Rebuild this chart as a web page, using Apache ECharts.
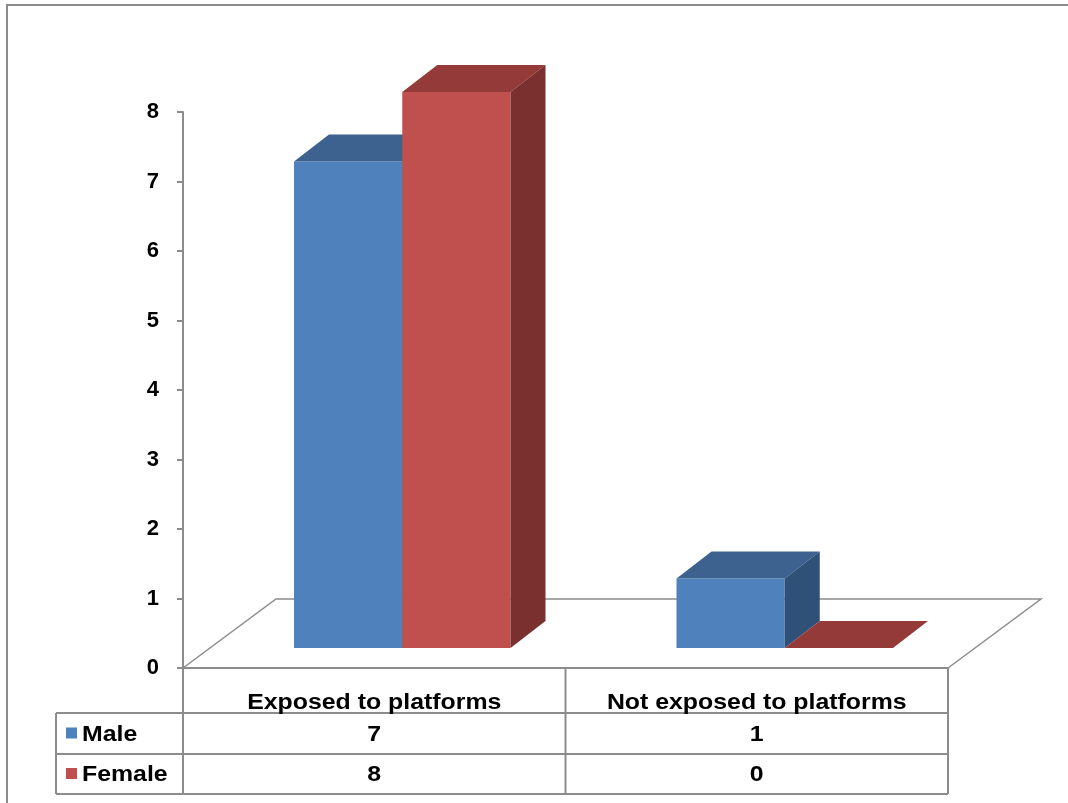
<!DOCTYPE html>
<html>
<head>
<meta charset="utf-8">
<style>
    html, body { margin: 0; padding: 0; background: #fff; }
    #chart { width: 1068px; height: 803px; }
</style>
<script src="https://cdn.jsdelivr.net/npm/echarts@6/dist/echarts.min.js"></script>
</head>
<body>
<div id="chart"></div>
<script>
// data
const categories = ['Exposed to platforms', 'Not exposed to platforms'];
const seriesNames = ['Male', 'Female'];
const maleValues = [7, 1];
const femaleValues = [8, 0];

// colours: front / top / side
const palette = [
    { front: '#4F81BD', top: '#3D6290', side: '#2F5178' },
    { front: '#C0504D', top: '#943B39', side: '#79302E' }
];

// grid edges (plot front plane)
const G_LEFT = 183, G_RIGHT = 948, G_TOP = 112, G_BOTTOM = 668;
const FLOOR_DEPTH = [93, -69];   // floor back edge offset
const BAR_SHIFT = [28, -20];     // bars sit a bit back on the floor
const BAR_DEPTH = [35, -27];     // thickness of each bar
const FONT = '"Liberation Sans", Arial, sans-serif';

const chart = echarts.init(document.getElementById('chart'));

function barRenderer(sIdx) {
    const col = palette[sIdx];
    return function (params, api) {
        const cat = api.value(0);
        const val = api.value(1);
        const base = api.coord([cat, 0]);
        const top = api.coord([cat, val]);
        const w = api.size([1, 0])[0] * 0.283;
        const x0 = base[0] + (sIdx === 0 ? -w : 0) + BAR_SHIFT[0];
        const x1 = x0 + w;
        const yb = base[1] + BAR_SHIFT[1];
        const yt = top[1] + BAR_SHIFT[1];
        const dx = BAR_DEPTH[0], dy = BAR_DEPTH[1];
        return {
            type: 'group',
            children: [
                { type: 'rect', shape: { x: x0, y: yt, width: w, height: yb - yt }, style: { fill: col.front } },
                { type: 'polygon', shape: { points: [[x0, yt], [x1, yt], [x1 + dx, yt + dy], [x0 + dx, yt + dy]] }, style: { fill: col.top } },
                { type: 'polygon', shape: { points: [[x1, yt], [x1 + dx, yt + dy], [x1 + dx, yb + dy], [x1, yb]] }, style: { fill: col.side } }
            ]
        };
    };
}

function floorRenderer(params, api) {
    const cs = params.coordSys;
    const fl = [cs.x, cs.y + cs.height];
    const fr = [cs.x + cs.width, cs.y + cs.height];
    return {
        type: 'polyline',
        shape: { points: [fl, [fl[0] + FLOOR_DEPTH[0], fl[1] + FLOOR_DEPTH[1]], [fr[0] + FLOOR_DEPTH[0], fr[1] + FLOOR_DEPTH[1]], fr] },
        style: { stroke: '#8c8c8c', lineWidth: 1.5, fill: null }
    };
}

// data table under the plot
const tableTop = G_BOTTOM, row1 = 713, row2 = 754, tableBottom = 794, tableLeft = 56;
const colMid = (G_LEFT + G_RIGHT) / 2;
const lineStyle = { stroke: '#8c8c8c', lineWidth: 2 };
function hLine(x1, x2, y) { return { type: 'line', shape: { x1: x1, y1: y, x2: x2, y2: y }, style: lineStyle, silent: true }; }
function vLine(x, y1, y2) { return { type: 'line', shape: { x1: x, y1: y1, x2: x, y2: y2 }, style: lineStyle, silent: true }; }
function txt(x, y, s, align, size) {
    return {
        type: 'text', x: x, y: y, scaleX: 1.13, silent: true,
        style: { x: 0, y: 0, text: s, fill: '#000', font: 'bold ' + size + 'px ' + FONT, align: align, verticalAlign: 'middle' }
    };
}

const graphics = [
    { type: 'rect', shape: { x: 7, y: 5, width: 1100, height: 840 }, style: { stroke: '#8c8c8c', lineWidth: 2, fill: null }, silent: true },
    hLine(G_LEFT, G_RIGHT, tableTop),
    hLine(tableLeft, G_RIGHT, row1),
    hLine(tableLeft, G_RIGHT, row2),
    hLine(tableLeft, G_RIGHT, tableBottom),
    vLine(tableLeft, row1, tableBottom),
    vLine(G_LEFT, tableTop, tableBottom),
    vLine(colMid, tableTop, tableBottom),
    vLine(G_RIGHT, tableTop, tableBottom)
];
const colCenters = [(G_LEFT + colMid) / 2, (colMid + G_RIGHT) / 2];
const rowCenters = [(row1 + row2) / 2 + 1, (row2 + tableBottom) / 2 + 1];
const rowValues = [maleValues, femaleValues];
categories.forEach(function (c, i) {
    graphics.push(txt(colCenters[i], 703, c, 'center', 22));
});
seriesNames.forEach(function (n, s) {
    graphics.push({ type: 'rect', shape: { x: 66, y: rowCenters[s] - 7, width: 11, height: 11 }, style: { fill: palette[s].front }, silent: true });
    graphics.push(txt(82, rowCenters[s], n, 'left', 22));
    rowValues[s].forEach(function (v, i) {
        graphics.push(txt(colCenters[i], rowCenters[s], String(v), 'center', 22));
    });
});

const option = {
    animation: false,
    backgroundColor: '#fff',
    grid: { left: G_LEFT, right: 1068 - G_RIGHT, top: G_TOP, bottom: 803 - G_BOTTOM },
    xAxis: {
        type: 'category',
        data: categories,
        axisLine: { show: false },
        axisTick: { show: false },
        axisLabel: { show: false }
    },
    yAxis: {
        type: 'value',
        min: 0,
        max: 8,
        interval: 1,
        splitLine: { show: false },
        axisLine: { show: true, lineStyle: { color: '#8c8c8c', width: 2 } },
        axisTick: { show: true, length: 6, lineStyle: { color: '#8c8c8c', width: 2 } },
        axisLabel: { color: '#000', fontFamily: FONT, fontWeight: 'bold', fontSize: 22, margin: 24 }
    },
    series: [
        { type: 'custom', name: 'floor', renderItem: floorRenderer, data: [[0]], z: 1, silent: true },
        {
            type: 'custom', name: seriesNames[0], renderItem: barRenderer(0), z: 2,
            encode: { x: 0, y: 1 },
            data: maleValues.map(function (v, i) { return [i, v]; })
        },
        {
            type: 'custom', name: seriesNames[1], renderItem: barRenderer(1), z: 3,
            encode: { x: 0, y: 1 },
            data: femaleValues.map(function (v, i) { return [i, v]; })
        }
    ],
    graphic: graphics
};
chart.setOption(option);
</script>
</body>
</html>
